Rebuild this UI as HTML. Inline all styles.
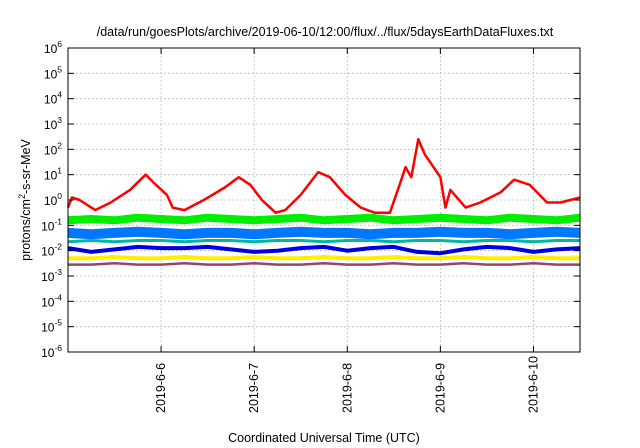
<!DOCTYPE html>
<html><head><meta charset="utf-8"><style>
body{margin:0;background:#fff}
svg{display:block;font-family:"Liberation Sans",sans-serif}
</style></head><body>
<svg id="chart" width="640" height="448" viewBox="0 0 640 448" xmlns="http://www.w3.org/2000/svg">
<text x="325" y="36" font-size="12.5" text-anchor="middle">/data/run/goesPlots/archive/2019-06-10/12:00/flux/../flux/5daysEarthDataFluxes.txt</text>
<g id="grid"></g>
<g id="series"></g>
<rect x="68" y="48" width="512" height="304" fill="none" stroke="#000" stroke-width="1"/>
<g id="axes"></g>
<text transform="translate(30,200) rotate(-90)" font-size="12.5" text-anchor="middle">protons/cm<tspan font-size="9" dy="-5">2</tspan><tspan dy="5">-s-sr-MeV</tspan></text>
<text x="324" y="442" font-size="12.5" text-anchor="middle">Coordinated Universal Time (UTC)</text>
</svg>
<script>
const xTickLabels=["2019-6-6","2019-6-7","2019-6-8","2019-6-9","2019-6-10"];
const xTickHours=[24,48,72,96,120];
const yDecades=[-6,-5,-4,-3,-2,-1,0,1,2,3,4,5,6];
const redHours=[0,1,3,7,11,16,20,22,25.5,27,30,35,40.5,44,47,50,53.5,56,60,64.5,67.5,71.5,75.5,79,83,85.5,87,88.5,90.3,92,96,97.3,98.6,102.5,106.3,111.5,115,119,123.5,127,132];
const redLog=[-0.3,0.1,0.0,-0.4,-0.1,0.4,1.0,0.7,0.2,-0.3,-0.4,0.0,0.5,0.9,0.6,0.0,-0.5,-0.4,0.2,1.1,0.9,0.2,-0.3,-0.5,-0.5,0.6,1.3,0.9,2.4,1.8,0.9,-0.3,0.4,-0.3,-0.1,0.3,0.8,0.6,-0.1,-0.1,0.1];
const bandHours=[0,6,12,18,24,30,36,42,48,54,60,66,72,78,84,90,96,102,108,114,120,126,132];
const greenLog=[-0.8,-0.75,-0.8,-0.7,-0.75,-0.8,-0.7,-0.75,-0.8,-0.75,-0.7,-0.8,-0.75,-0.7,-0.8,-0.75,-0.7,-0.75,-0.8,-0.7,-0.75,-0.8,-0.7];
const lightBlueLog=[-1.3,-1.35,-1.3,-1.25,-1.3,-1.35,-1.3,-1.3,-1.35,-1.3,-1.25,-1.3,-1.3,-1.35,-1.3,-1.3,-1.25,-1.3,-1.3,-1.35,-1.3,-1.25,-1.3];
const darkBlueLog=[-1.9,-2.05,-1.95,-1.85,-1.9,-1.9,-1.85,-1.95,-2.05,-2.0,-1.9,-1.85,-2.0,-1.9,-1.85,-2.05,-2.1,-1.95,-1.85,-1.9,-2.05,-1.95,-1.9];
const tealLog=[-1.65,-1.6,-1.65,-1.6,-1.6,-1.65,-1.6,-1.6,-1.65,-1.6,-1.6,-1.65,-1.6,-1.6,-1.65,-1.6,-1.6,-1.65,-1.6,-1.6,-1.65,-1.6,-1.6];
const yellowLog=[-2.3,-2.3,-2.25,-2.3,-2.3,-2.25,-2.3,-2.3,-2.25,-2.3,-2.3,-2.25,-2.3,-2.3,-2.25,-2.3,-2.3,-2.25,-2.3,-2.3,-2.25,-2.3,-2.3];
const purpleLog=[-2.55,-2.55,-2.5,-2.55,-2.55,-2.5,-2.55,-2.55,-2.5,-2.55,-2.55,-2.5,-2.55,-2.55,-2.5,-2.55,-2.55,-2.5,-2.55,-2.55,-2.5,-2.55,-2.55];

const X0=68,X1=580,Y0=352,Y1=48,H0=0,H1=132,L0=-6,L1=6;
function xs(h){return X0+(h-H0)/(H1-H0)*(X1-X0);}
function ys(l){return Y0-(l-L0)/(L1-L0)*(Y0-Y1);}
const NS="http://www.w3.org/2000/svg";
function mk(tag,parent,attrs){const e=document.createElementNS(NS,tag);for(const k in attrs)e.setAttribute(k,attrs[k]);parent.appendChild(e);return e;}
const grid=document.getElementById('grid'),axes=document.getElementById('axes'),ser=document.getElementById('series');
yDecades.forEach(d=>{
  const y=ys(d);
  if(d>L0&&d<L1){const g=mk('line',grid,{x1:X0,x2:X1,y1:y,y2:y,stroke:'#aaa','stroke-width':0.8,'stroke-dasharray':'1.5,2.5'});
  
  }
  const t1=mk('line',axes,{x1:X0,x2:X0+6,y1:y,y2:y,stroke:'#000'});
  
  
  const t2=mk('line',axes,{x1:X1-6,x2:X1,y1:y,y2:y,stroke:'#000'});
  
  
  const tx=mk('text',axes,{x:62,y:y+5,'font-size':12,'text-anchor':'end'});
  
  
  tx.innerHTML='10<tspan font-size="8.5" dy="-6">'+d+'</tspan>';
});
xTickHours.forEach((h,i)=>{
  const x=xs(h);
  const g=mk('line',grid,{x1:x,x2:x,y1:Y1,y2:Y0,stroke:'#aaa','stroke-width':0.8,'stroke-dasharray':'1.5,2.5'});
  
  
  const t1=mk('line',axes,{x1:x,x2:x,y1:Y0-6,y2:Y0,stroke:'#000'});
  
  
  const t2=mk('line',axes,{x1:x,x2:x,y1:Y1,y2:Y1+6,stroke:'#000'});
  
  
  const tx=mk('text',axes,{transform:'translate('+(x+4)+',413) rotate(-90)','font-size':12.5,'text-anchor':'start'});
  
  
  tx.textContent=xTickLabels[i];
});
function line(hours,vals,color,w,name){
  const d=hours.map((h,i)=>(i?'L':'M')+xs(h).toFixed(1)+','+ys(vals[i]).toFixed(1)).join('');
  const p=mk('path',ser,{d:d,fill:'none',stroke:color,'stroke-width':w,'stroke-linejoin':'round'});
  
  
}
line(bandHours,greenLog,'#00ee00',8,'series-green');
line(bandHours,darkBlueLog,'#0000dd',4,'series-dark-blue');
line(bandHours,lightBlueLog,'#0077ff',10,'series-light-blue');
line(bandHours,tealLog,'#00b8a0',3,'series-teal');
line(bandHours,yellowLog,'#ffee00',4,'series-yellow');
line(bandHours,purpleLog,'#994466',2.5,'series-purple');
line(redHours,redLog,'#ff0000',2.5,'series-red');
</script>
</body></html>
